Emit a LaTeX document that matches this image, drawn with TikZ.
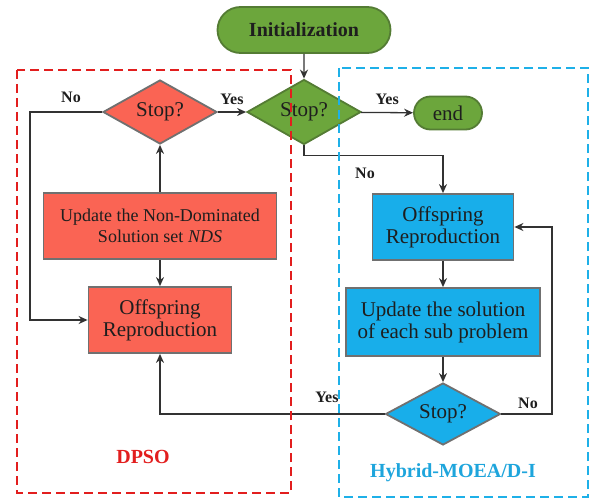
\documentclass[tikz,border=0pt]{standalone}
\usepackage{fontspec}
\setmainfont{Liberation Serif}
\usetikzlibrary{shapes.geometric,shapes.misc,arrows.meta}
\definecolor{gfill}{RGB}{108,166,60}
\definecolor{gdraw}{RGB}{84,124,52}
\definecolor{rfill}{RGB}{250,100,84}
\definecolor{bfill}{RGB}{24,174,234}
\definecolor{boxdraw}{RGB}{112,112,112}
\definecolor{rdash}{RGB}{226,30,30}
\definecolor{bdash}{RGB}{30,176,232}
\definecolor{lblblue}{RGB}{30,165,220}
\definecolor{txt}{RGB}{30,30,30}
\definecolor{conn}{RGB}{50,50,50}
\tikzset{
  base/.style={draw=boxdraw, line width=1.8, inner sep=0, text=txt, align=center,
    font=\fontsize{21}{22}\selectfont},
  pill/.style={base, rounded rectangle, fill=gfill, draw=gdraw},
  rbox/.style={base, rectangle, fill=rfill},
  bbox/.style={base, rectangle, fill=bfill},
  dia/.style={base, diamond, aspect=2},
  arr/.style={draw=conn, line width=1.3, -{Stealth[length=9,width=8]}},
  lbl/.style={font=\bfseries\fontsize{16}{17}\selectfont, text=txt, inner sep=1},
  frame/.style={line width=2, dash pattern=on 9 off 5},
}
\begin{document}
\begin{tikzpicture}[x=1pt,y=-1pt]
\useasboundingbox (0,0) rectangle (595,503);
% nodes
\node[pill, minimum width=173, minimum height=46, font=\bfseries\fontsize{20}{21}\selectfont] (init) at (304,30) {Initialization};
\node[dia, fill=gfill, draw=gdraw, minimum width=114, minimum height=65] (s1) at (304,112) {Stop?};
\node[pill, minimum width=68, minimum height=33] (endn) at (448,113) {end};
\node[dia, fill=rfill, minimum width=114, minimum height=64] (s2) at (160,112) {Stop?};
\node[rbox, minimum width=233, minimum height=66, font=\fontsize{18}{21}\selectfont] (ru) at (160,226) {Update the Non-Dominated\\Solution set \textit{NDS}};
\node[rbox, minimum width=143, minimum height=66] (ro) at (160,320) {Offspring\\Reproduction};
\node[bbox, minimum width=141, minimum height=66] (bo) at (443,227) {Offspring\\Reproduction};
\node[bbox, minimum width=194, minimum height=68] (bu) at (443,322) {Update the solution\\of each sub problem};
\node[dia, fill=bfill, minimum width=115, minimum height=62] (s3) at (443,414) {Stop?};
\coordinate (k1) at (30,215);
\coordinate (k2) at (552,300);
% connectors
\draw[arr] (init) -- (s1);
\draw[arr] (s2) -- node[lbl, above=6pt] {Yes} (s1);
\draw[arr] (s1) -- node[lbl, above=6pt] {Yes} (endn);
\draw[arr] (s1.south) -- ++(0,10) -| (bo.north);
\node[lbl] (no1) at (365,173) {No};
\draw[arr] (s2.west) -| (k1) |- (ro.west);
\node[lbl] (no2) at (71,97) {No};
\draw[arr] (ru) -- (s2);
\draw[arr] (ru) -- (ro);
\draw[arr] (bo) -- (bu);
\draw[arr] (bu) -- (s3);
\draw[arr] (s3.east) -| (k2) |- (bo.east);
\node[lbl] (no3) at (528,403) {No};
\draw[arr] (s3.west) -| (ro.south);
\node[lbl] (yes3) at (327,397) {Yes};
% frames
\draw[frame, draw=rdash] (17,70) rectangle (291,493);
\draw[frame, draw=bdash] (339,68) rectangle (588,497);
\node[font=\bfseries\fontsize{20}{21}\selectfont, text=rdash] (dpso) at (143,457) {DPSO};
\node[font=\bfseries\fontsize{20}{21}\selectfont, text=lblblue] (hyb) at (453,473) {Hybrid-MOEA/D-I};
\end{tikzpicture}
\end{document}
